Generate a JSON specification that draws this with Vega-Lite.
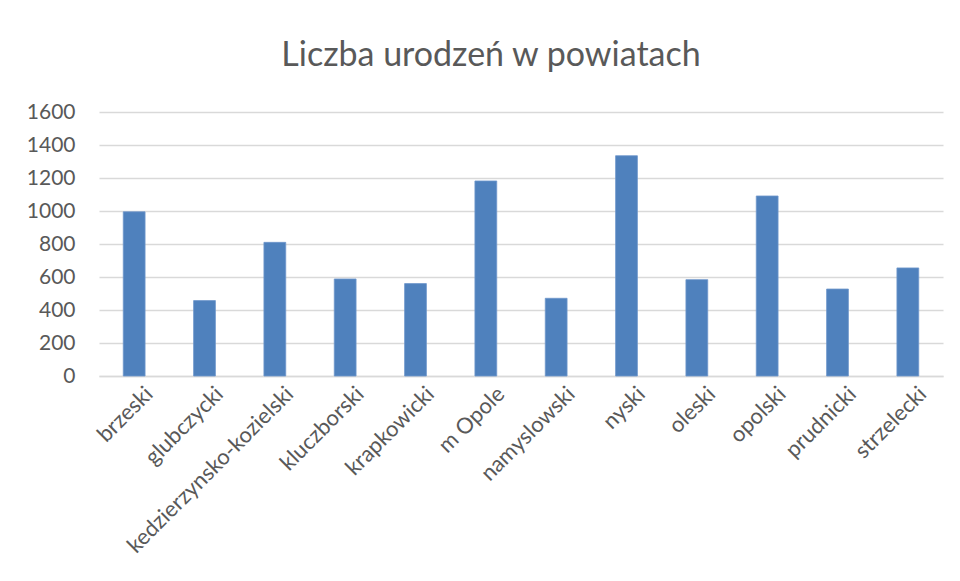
{
  "$schema": "https://vega.github.io/schema/vega-lite/v6.json",
  "width": 844,
  "height": 264,
  "autosize": "none",
  "padding": {"left": 99, "top": 112, "right": 17, "bottom": 205},
  "background": "white",
  "title": {
    "text": "Liczba urodzeń w powiatach",
    "font": "Lato",
    "fontSize": 34,
    "fontWeight": "normal",
    "color": "#595959",
    "anchor": "middle",
    "dx": -30,
    "offset": 28
  },
  "data": {
    "values": [
      {"powiat": "brzeski", "urodzenia": 995},
      {"powiat": "glubczycki", "urodzenia": 457},
      {"powiat": "kedzierzynsko-kozielski", "urodzenia": 810},
      {"powiat": "kluczborski", "urodzenia": 588},
      {"powiat": "krapkowicki", "urodzenia": 560},
      {"powiat": "m Opole", "urodzenia": 1182},
      {"powiat": "namyslowski", "urodzenia": 471},
      {"powiat": "nyski", "urodzenia": 1335},
      {"powiat": "oleski", "urodzenia": 584},
      {"powiat": "opolski", "urodzenia": 1091},
      {"powiat": "prudnicki", "urodzenia": 527},
      {"powiat": "strzelecki", "urodzenia": 655}
    ]
  },
  "mark": {"type": "bar", "color": "#4f81bd", "stroke": "#6f97cc", "strokeWidth": 0.8},
  "encoding": {
    "x": {
      "field": "powiat",
      "type": "nominal",
      "sort": null,
      "title": null,
      "scale": {"paddingInner": 0.69, "paddingOuter": 0.345},
      "axis": {
        "labelAngle": -45,
        "labelFont": "Lato",
        "labelFontSize": 22,
        "labelColor": "#595959",
        "labelPadding": 7,
        "labelOffset": 8,
        "ticks": false,
        "domain": true,
        "domainColor": "#d9d9d9",
        "domainWidth": 1.5,
        "labelOverlap": false,
        "labelLimit": 400
      }
    },
    "y": {
      "field": "urodzenia",
      "type": "quantitative",
      "title": null,
      "scale": {"domain": [0, 1600], "nice": false},
      "axis": {
        "values": [0, 200, 400, 600, 800, 1000, 1200, 1400, 1600],
        "format": "d",
        "labelFont": "Lato",
        "labelFontSize": 21,
        "labelColor": "#595959",
        "labelPadding": 24,
        "ticks": false,
        "domain": false,
        "grid": true,
        "gridColor": "#d9d9d9",
        "gridWidth": 1.5
      }
    }
  },
  "config": {
    "view": {"stroke": null}
  }
}
